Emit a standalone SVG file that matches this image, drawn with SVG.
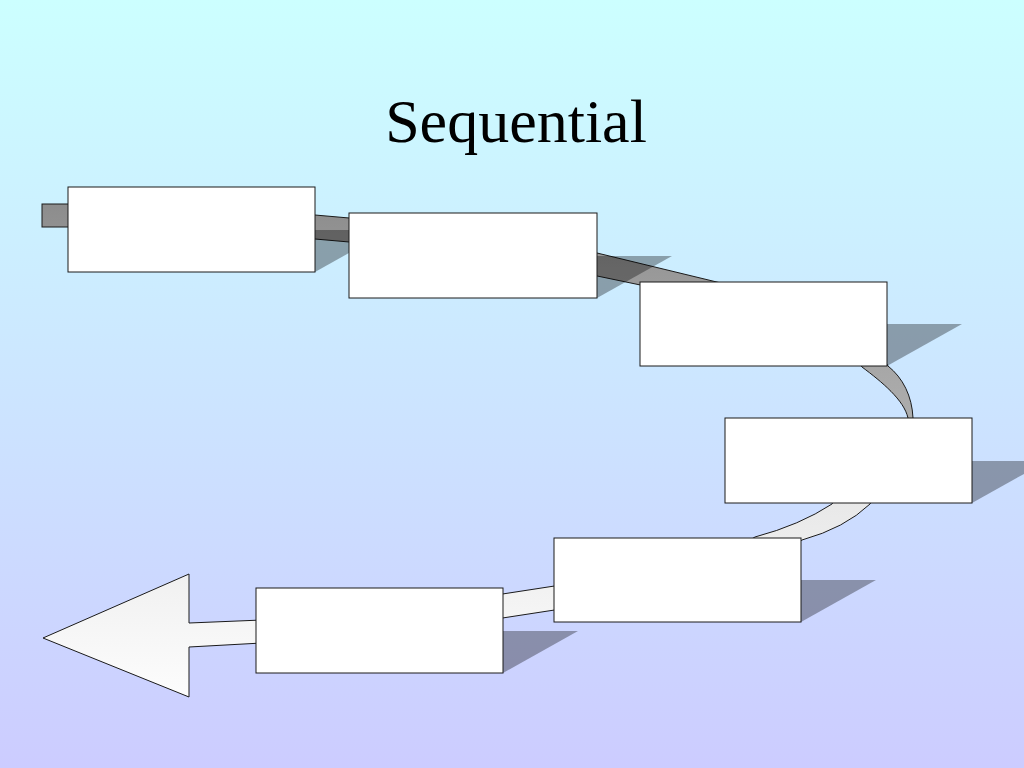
<svg xmlns="http://www.w3.org/2000/svg" width="1024" height="768" viewBox="0 0 1024 768">
  <defs>
    <linearGradient id="bg" x1="0" y1="0" x2="0" y2="1">
      <stop offset="0" stop-color="#ccffff"/>
      <stop offset="1" stop-color="#ccccff"/>
    </linearGradient>
    <linearGradient id="rib" gradientUnits="userSpaceOnUse" x1="0" y1="200" x2="0" y2="700">
      <stop offset="0" stop-color="#8c8c8c"/>
      <stop offset="0.16" stop-color="#9a9a9a"/>
      <stop offset="0.33" stop-color="#a7a7a7"/>
      <stop offset="0.44" stop-color="#adadad"/>
      <stop offset="0.6" stop-color="#e8e8e8"/>
      <stop offset="0.8" stop-color="#f3f3f3"/>
      <stop offset="1" stop-color="#fdfdfd"/>
    </linearGradient>
    <style>
      .rib { fill: url(#rib); stroke: #1a1a1a; stroke-width: 1; stroke-linejoin: miter; }
      .shadow { fill: #000000; fill-opacity: 0.33; stroke: none; }
      .box { fill: #ffffff; stroke: #1a1a1a; stroke-width: 1; }
      .title { font-family: "Liberation Serif", "Times New Roman", serif; font-size: 62px; fill: #000000; }
    </style>
  </defs>

  <rect x="0" y="0" width="1024" height="768" fill="url(#bg)"/>

  <text class="title" x="516" y="142" text-anchor="middle">Sequential</text>

  <g id="connectors">
    <rect class="rib" x="42" y="204" width="33" height="23"/>
    <polygon class="rib" points="308,214.4 356,218.6 356,242.6 308,238.4"/>
    <polygon class="rib" points="590,251.3 725,284 650,287 590,274.5"/>
    <path class="rib" d="M858,362 L862,367 C882,382 904,400 908,418 L909,424 L914,424 L913,418 C912,396 903,378 888,366 L885,361 Z"/>
    <path class="rib" d="M748,541 L755,537 Q800,525 832,504 L836,498 L874,498 L870,504 Q845,528 802,540 L795,545 Z"/>
    <polygon class="rib" points="496,595 561,585 561,609 496,619"/>
    <polygon class="rib" points="43,638 189,574 189,623 262,620 262,643 189,647 189,697"/>
  </g>

  <g id="node1">
    <polygon class="shadow" points="68,272 315,272 390,230 143,230"/>
    <rect class="box" x="68" y="187" width="247" height="85"/>
  </g>
  <g id="node2">
    <polygon class="shadow" points="349,298 597,298 672,256 424,256"/>
    <rect class="box" x="349" y="213" width="248" height="85"/>
  </g>
  <g id="node3">
    <polygon class="shadow" points="640,366 887,366 962,324 715,324"/>
    <rect class="box" x="640" y="282" width="247" height="84"/>
  </g>
  <g id="node4">
    <polygon class="shadow" points="725,503 972,503 1047,461 800,461"/>
    <rect class="box" x="725" y="418" width="247" height="85"/>
  </g>
  <g id="node5">
    <polygon class="shadow" points="554,622 801,622 876,580 629,580"/>
    <rect class="box" x="554" y="538" width="247" height="84"/>
  </g>
  <g id="node6">
    <polygon class="shadow" points="256,673 503,673 578,631 331,631"/>
    <rect class="box" x="256" y="588" width="247" height="85"/>
  </g>
</svg>
